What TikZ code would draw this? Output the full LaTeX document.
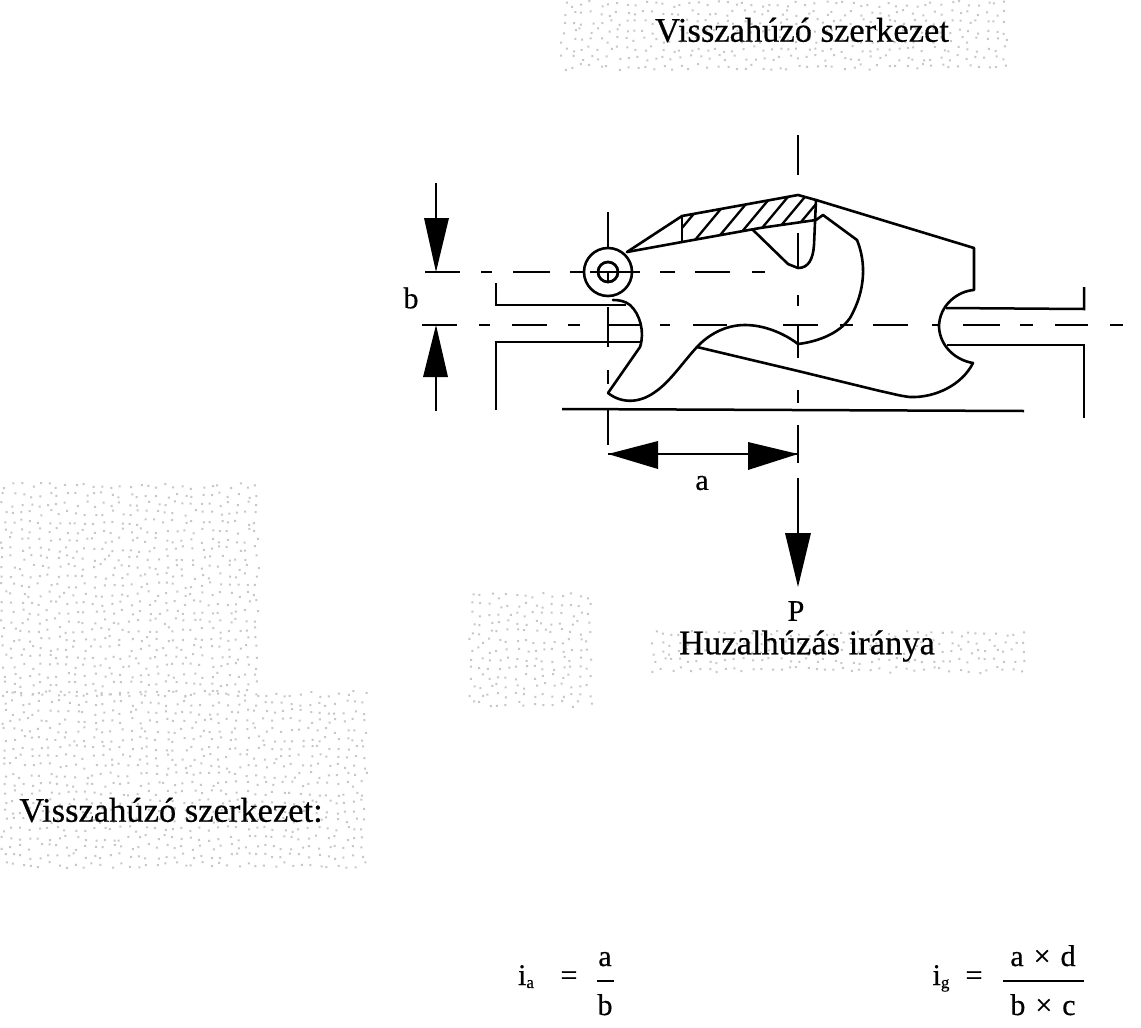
\documentclass[tikz,border=0pt]{standalone}
\usepackage{fontspec}
\setmainfont[FakeBold=0.5]{Liberation Serif}
\usetikzlibrary{calc}
\tikzset{
  part/.style={draw=black,line width=2.6pt,line join=round,line cap=round},
  thin part/.style={draw=black,line width=2.5pt},
  hatch/.style={draw=black,line width=2.3pt},
  centerline/.style={draw=black,line width=2.8pt},
  dim/.style={draw=black,line width=2.2pt},
  headfill/.style={fill=black,draw=none},
  title/.style={inner sep=0pt,font=\fontsize{34.5}{34.5}\selectfont,text=black},
  small/.style={inner sep=0pt,font=\fontsize{30}{30}\selectfont,text=black},
  speck/.style={fill=black!22,draw=none}
}
\newcommand{\speckle}[4]{%
  \fill[speck]
  \foreach \xx in {#1,\the\numexpr#1+9\relax,...,#3}{
    \foreach \yy in {#2,\the\numexpr#2+9\relax,...,#4}{
      ({\xx+6*rnd},{\yy+6*rnd}) rectangle ++(2,2)
    }
  };
}
\begin{document}
\begin{tikzpicture}[x=1pt,y=-1pt]
\pgfmathsetseed{4711}
\useasboundingbox (0,0) rectangle (1141,1028);
\fill[white] (0,0) rectangle (1141,1028);
% scanned speckle
\speckle{560}{0}{1003}{68}
\speckle{0}{482}{252}{690}
\speckle{0}{690}{365}{868}
\speckle{468}{592}{585}{700}
\speckle{650}{630}{1022}{672}
% coordinates
\coordinate (pivot) at (608,272);
\coordinate (c1t) at (627,252);
\coordinate (hTL) at (682,216);
\coordinate (apex) at (798,195);
\coordinate (hTR) at (816,200);
\coordinate (backTop) at (974,248);
\coordinate (backLow) at (974,290);
\coordinate (notchR) at (939,327);
\coordinate (jawR) at (973,363);
\coordinate (bellyL) at (697,347);
\coordinate (bellyM) at (798,371);
% hatching
\begin{scope}
\clip (hTL) -- (apex) -- (hTR) -- (816,220) -- (760,228) -- (682,242) -- cycle;
\foreach \hx in {672,695,716,735,752,769,786}{
  \draw[hatch] (\hx,240) -- ++(37.5,-45);
}
\end{scope}
% lever outline
\draw[part] (c1t) -- (hTL) -- (apex) -- (hTR) -- (backTop) -- (backLow)
  .. controls (958,291) and (939,305) .. (notchR)
  .. controls (940,346) and (955,360) .. (jawR)
  .. controls (962,385) and (935,398) .. (910,397)
  .. controls (900,396) and (890,393) .. (880,391)
  -- (bellyM) -- (bellyL);
\draw[part] (c1t) -- (682,242) -- (760,228) -- (816,220) -- (823,215) -- (857,240)
  .. controls (866,262) and (866,290) .. (850,318)
  .. controls (838,335) and (815,342) .. (798,344)
  .. controls (785,334) and (765,325) .. (745,325)
  .. controls (725,325) and (708,335) .. (697,347)
  .. controls (683,362) and (670,382) .. (655,392)
  .. controls (640,403) and (622,404) .. (608,393)
  -- (640,347)
  .. controls (645,332) and (640,314) .. (630,305)
  .. controls (625,301) and (619,300) .. (613,300);
\draw[part] (682,216) -- (682,242);
\draw[part] (753,230) -- (788,264) -- (798,268)
  .. controls (808,268) and (813,260) .. (814,245) -- (816,200);
% channel
\draw[thin part] (496,283) -- (496,305) -- (626,305);
\draw[thin part] (496,410) -- (496,342) -- (641,342);
\draw[thin part] (1084,287) -- (1084,309) -- (946,308);
\draw[thin part] (1084,418) -- (1084,345) -- (947,345);
\draw[thin part] (562,409) -- (1024,411);
% pin
\node[circle,draw=black,line width=2.6pt,minimum size=48pt,inner sep=0pt] (pinouter) at (pivot) {};
\node[circle,draw=black,line width=2.8pt,minimum size=20pt,inner sep=0pt] (pininner) at (pivot) {};
\draw[line width=2.2pt] (pivot) -- (608,283);
% horizontal dashed centre lines
\foreach \a/\b in {425/460,481/492,513/550,570/583,590/640,660/675,695/730,752/765}{
  \draw[centerline] (\a,272) -- (\b,272);
}
\foreach \a/\b in {422/457,479/490,512/547,568/580,607/640,660/670,693/727,783/818,840/853,873/908,932/940,963/1000,1020/1033,1055/1088,1110/1123}{
  \draw[centerline] (\a,325) -- (\b,325);
}
% vertical centre lines
\foreach \a/\b in {212/248,307/347,370/384,408/445}{
  \draw[centerline] (608,\a) -- (608,\b);
}
\foreach \a/\b in {135/175,233/268,295/306,325/358,390/403,425/463}{
  \draw[centerline] (798,\a) -- (798,\b);
}
% dimension b
\coordinate (btA) at (436,183);
\coordinate (btB) at (436,272);
\coordinate (bbA) at (436,411);
\coordinate (bbB) at (436,325);
\draw[dim] (btA) -- (436,225);
\fill[headfill] (btB) -- (424,218) -- (449,218) -- cycle;
\draw[dim] (bbA) -- (436,370);
\fill[headfill] (bbB) -- (423,377) -- (448,377) -- cycle;
\node[small] (lb) at (411,298) {b};
% dimension a
\coordinate (aL) at (608,454);
\coordinate (aR) at (798,454);
\draw[dim] (aL) -- (aR);
\fill[headfill] (aL) -- (658,441) -- (658,469) -- cycle;
\fill[headfill] (aR) -- (748,442) -- (748,470) -- cycle;
\node[small] (la) at (702,483) {a};
% force P
\coordinate (pA) at (798,478);
\coordinate (pB) at (798,587);
\draw[dim] (pA) -- (798,540);
\fill[headfill] (pB) -- (785,533) -- (811,533) -- cycle;
\node[small] (lp) at (796,611) {P};
% titles
\node[title] (t1) at (802,30) {Visszahúzó szerkezet};
\node[title] (t2) at (807,646) {Huzalhúzás iránya};
\node[title] (t3) at (171,810) {Visszahúzó szerkezet:};
% formulas
\node[small,anchor=base] (ia) at (526,985) {i\raisebox{-3pt}{\fontsize{17}{17}\selectfont a}};
\node[small,anchor=base] (eqa) at (569,985) {=};
\node[small,anchor=base] (fa) at (605,966) {a};
\draw[line width=2pt] (597,981) -- (614,981);
\node[small,anchor=base] (fb) at (605,1015) {b};
\node[small,anchor=base] (ig) at (941,985) {i\raisebox{-3pt}{\fontsize{17}{17}\selectfont g}};
\node[small,anchor=base] (eqg) at (974,985) {=};
\node[small,anchor=base] (fn) at (1043,966) {a\,\,×\,\,d};
\draw[line width=2.2pt] (1003,981) -- (1084,981);
\node[small,anchor=base] (fd) at (1043,1015) {b\,\,×\,\,c};
\end{tikzpicture}
\end{document}
